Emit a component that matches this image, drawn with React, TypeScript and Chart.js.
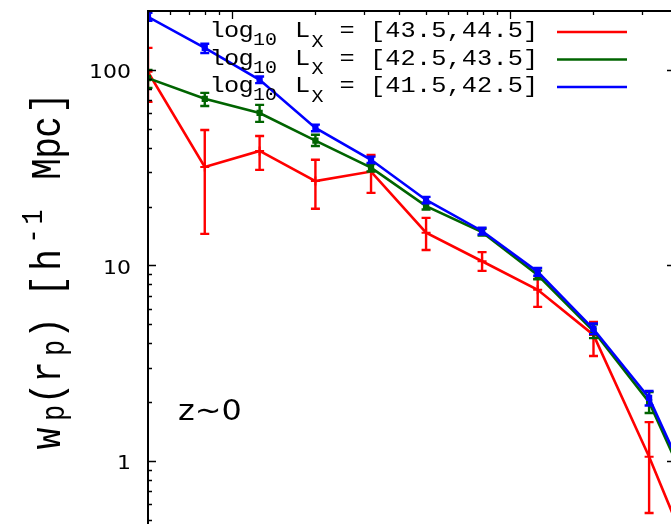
import React, { useEffect, useRef } from 'react';
import { Chart, registerables } from 'chart.js';

Chart.register(...registerables);

// ---------------- data ----------------
const rpValues = [0.5, 0.8, 1.26, 2.0, 3.17, 5.0, 7.95, 12.6, 20.0, 31.7, 50.2];

const seriesRanges = ['[43.5,44.5]', '[42.5,43.5]', '[41.5,42.5]'];
const seriesColors = ['#ff0000', '#006400', '#0000ff'];

const redValues = [97.7, 31.9, 38.5, 27.0, 30.2, 14.7, 10.5, 7.5, 4.41, 1.05, 0.216];
const redErrLow = [68.6, 14.5, 30.8, 19.5, 23.5, 12.0, 9.38, 6.14, 3.44, 0.542, null];
const redErrHigh = [129.6, 49.3, 45.9, 34.7, 36.7, 17.5, 11.7, 8.53, 5.14, 1.58, null];

const greenValues = [90.7, 71.1, 60.2, 43.5, 31.6, 20.1, 14.8, 8.93, 4.62, 2.0, 0.47];
const greenErrLow = [80.9, 65.4, 54.2, 40.8, 30.2, 19.3, 14.2, 8.5, 4.25, 1.76, null];
const greenErrHigh = [100, 76.3, 66.2, 46.6, 33.0, 20.9, 15.4, 9.4, 5.0, 2.25, null];

const blueValues = [186.6, 129.6, 88.9, 50.5, 34.7, 21.6, 15.0, 9.27, 4.73, 2.1, 0.5];
const blueErrLow = [178, 122, 85.5, 48.5, 33.4, 20.8, 14.4, 8.85, 4.45, 1.92, null];
const blueErrHigh = [196, 136, 92.5, 52.5, 36.0, 22.4, 15.6, 9.7, 5.05, 2.28, null];

const yMajorTicks = [1, 10, 100];
const yTickLabels = ['1', '10', '100'];
const yMinorTicks = [0.5, 0.6, 0.7, 0.8, 0.9, 2, 3, 4, 5, 6, 7, 8, 9, 20, 30, 40, 50, 60, 70, 80, 90, 200];
const xMajorTicks = [1, 10];
const xMinorTicks = [0.6, 0.7, 0.8, 0.9, 2, 3, 4, 5, 6, 7, 8, 9, 20, 30];

const X_MIN = 0.5;
const X_MAX = 38.0;
const Y_MIN = 0.476;
const Y_MAX = 200;

const errLows = [redErrLow, greenErrLow, blueErrLow];
const errHighs = [redErrHigh, greenErrHigh, blueErrHigh];

function glyph(
  ctx: CanvasRenderingContext2D,
  ch: string,
  cx: number,
  by: number,
  font: string,
  sx: number,
  rotated: boolean
) {
  ctx.save();
  ctx.translate(cx, by);
  if (rotated) {
    ctx.rotate(-Math.PI / 2);
    ctx.scale(1, sx);
  } else {
    ctx.scale(sx, 1);
  }
  ctx.font = font;
  ctx.textAlign = 'center';
  ctx.textBaseline = 'alphabetic';
  ctx.fillText(ch, 0, 0);
  ctx.restore();
}

const errorBarPlugin = {
  id: 'errorBars',
  afterDatasetDraw(chart: any, args: any) {
    const i = args.index;
    const lows = errLows[i];
    const highs = errHighs[i];
    const { ctx, chartArea } = chart;
    const xs = chart.scales.x;
    const ys = chart.scales.y;
    ctx.save();
    ctx.beginPath();
    ctx.rect(chartArea.left, chartArea.top, chartArea.right - chartArea.left, chartArea.bottom - chartArea.top);
    ctx.clip();
    ctx.strokeStyle = seriesColors[i];
    ctx.lineWidth = 2.4;
    for (let k = 0; k < rpValues.length; k++) {
      const lo = lows[k];
      const hi = highs[k];
      if (lo == null || hi == null) continue;
      const px = xs.getPixelForValue(rpValues[k]);
      const pl = ys.getPixelForValue(lo);
      const ph = ys.getPixelForValue(hi);
      ctx.beginPath();
      ctx.moveTo(px, pl);
      ctx.lineTo(px, ph);
      ctx.moveTo(px - 4.5, pl);
      ctx.lineTo(px + 4.5, pl);
      ctx.moveTo(px - 4.5, ph);
      ctx.lineTo(px + 4.5, ph);
      ctx.stroke();
    }
    ctx.restore();
  },
};

const framePlugin = {
  id: 'frame',
  afterDraw(chart: any) {
    const { ctx, chartArea } = chart;
    const xs = chart.scales.x;
    const ys = chart.scales.y;
    const L = chartArea.left;
    const T = chartArea.top;
    const R = chart.width;
    const B = chart.height;
    ctx.save();
    ctx.strokeStyle = '#000';
    // frame
    ctx.lineWidth = 2;
    ctx.beginPath();
    ctx.moveTo(L, B);
    ctx.lineTo(L, T);
    ctx.lineTo(R, T);
    ctx.stroke();
    // ticks
    ctx.lineWidth = 1.3;
    ctx.beginPath();
    for (const v of yMajorTicks) {
      const py = Math.round(ys.getPixelForValue(v)) + 0.5;
      ctx.moveTo(L, py);
      ctx.lineTo(L + 8, py);
      ctx.moveTo(R - 4, py);
      ctx.lineTo(R, py);
    }
    for (const v of yMinorTicks) {
      if (v < Y_MIN || v > Y_MAX) continue;
      const py = Math.round(ys.getPixelForValue(v)) + 0.5;
      ctx.moveTo(L, py);
      ctx.lineTo(L + 4, py);
    }
    for (const v of xMajorTicks) {
      const px = Math.round(xs.getPixelForValue(v)) + 0.5;
      ctx.moveTo(px, T);
      ctx.lineTo(px, T + 8);
    }
    for (const v of xMinorTicks) {
      const px = Math.round(xs.getPixelForValue(v)) + 0.5;
      ctx.moveTo(px, T);
      ctx.lineTo(px, T + 4);
    }
    ctx.stroke();

    // y tick labels
    ctx.fillStyle = '#000';
    yMajorTicks.forEach((v, k) => {
      const py = ys.getPixelForValue(v);
      ctx.save();
      ctx.translate(131, py + 8.5);
      ctx.scale(1.1, 1);
      ctx.font = '20px "DejaVu Sans"';
      ctx.textAlign = 'right';
      ctx.textBaseline = 'alphabetic';
      ctx.fillText(yTickLabels[k], 0, 0);
      ctx.restore();
    });

    // y axis title (rotated, monospace with sub/superscripts)
    const mainF = '36px "Liberation Mono"';
    const subF = '27px "Liberation Mono"';
    const supF = '25px "Liberation Mono"';
    const title: [string, number, string, number][] = [
      ['w', 438.5, mainF, 60],
      ['p', 413, subF, 64],
      ['(', 393.5, mainF, 60],
      ['r', 372, mainF, 60],
      ['p', 348, subF, 64],
      [')', 328, mainF, 60],
      ['[', 286, mainF, 60],
      ['h', 260, mainF, 60],
      ['-', 236, supF, 42],
      ['1', 217, supF, 42],
      ['M', 169, mainF, 60],
      ['p', 148, mainF, 60],
      ['c', 127, mainF, 60],
      [']', 103, mainF, 60],
    ];
    for (const [ch, cy, f, bx] of title) {
      glyph(ctx, ch, bx, cy, f, 1.2, true);
    }

    // legend
    const lf = '22px "Liberation Mono"';
    const sf = '19px "Liberation Mono"';
    const baselines = [37.3, 64.8, 92.3];
    seriesRanges.forEach((rng, r) => {
      const b = baselines[r];
      glyph(ctx, 'l', 217, b, lf, 1.15, false);
      glyph(ctx, 'o', 231.5, b, lf, 1.15, false);
      glyph(ctx, 'g', 246, b, lf, 1.15, false);
      glyph(ctx, '1', 259, b + 8, sf, 1.05, false);
      glyph(ctx, '0', 271, b + 8, sf, 1.05, false);
      glyph(ctx, 'L', 302.5, b, lf, 1.15, false);
      glyph(ctx, 'X', 317.5, b + 9.5, sf, 1.05, false);
      glyph(ctx, '=', 347, b, lf, 1.15, false);
      for (let c = 0; c < rng.length; c++) {
        glyph(ctx, rng[c], 377.6 + c * 15.3, b, lf, 1.15, false);
      }
      ctx.strokeStyle = seriesColors[r];
      ctx.lineWidth = 2.6;
      ctx.beginPath();
      ctx.moveTo(557, b - 5.3);
      ctx.lineTo(627, b - 5.3);
      ctx.stroke();
    });

    // annotation
    ctx.fillStyle = '#000';
    ctx.save();
    ctx.translate(178, 420);
    ctx.scale(1.1, 1);
    ctx.font = '29px "DejaVu Sans"';
    ctx.textAlign = 'left';
    ctx.textBaseline = 'alphabetic';
    ctx.fillText('z~0', 0, 0);
    ctx.restore();

    ctx.restore();
  },
};

function toPoints(vals: number[]) {
  return rpValues.map((x, i) => ({ x, y: vals[i] }));
}

export default function App() {
  const ref = useRef<HTMLCanvasElement | null>(null);

  useEffect(() => {
    if (!ref.current) return;
    const mk = (label: string, vals: number[], color: string, order: number, style: any, radius: number) => ({
      label,
      data: toPoints(vals),
      borderColor: color,
      backgroundColor: color,
      borderWidth: 2.6,
      pointStyle: style,
      pointRadius: radius,
      pointBorderWidth: 2,
      pointBackgroundColor: color,
      pointBorderColor: color,
      tension: 0,
      fill: false,
      order,
    });
    const chart = new Chart(ref.current, {
      type: 'line',
      data: {
        datasets: [
          mk('log10 LX = ' + seriesRanges[0], redValues, seriesColors[0], 2, 'cross', 4.5),
          mk('log10 LX = ' + seriesRanges[1], greenValues, seriesColors[1], 1, 'rect', 3),
          mk('log10 LX = ' + seriesRanges[2], blueValues, seriesColors[2], 0, 'rect', 3),
        ] as any,
      },
      options: {
        responsive: false,
        animation: false,
        layout: { autoPadding: false, padding: { left: 148, top: 11, right: 0, bottom: 0 } },
        plugins: {
          legend: { display: false },
          tooltip: { enabled: false },
          title: { display: false },
        },
        scales: {
          x: { type: 'logarithmic', min: X_MIN, max: X_MAX, display: false },
          y: { type: 'logarithmic', min: Y_MIN, max: Y_MAX, display: false },
        },
      },
      plugins: [errorBarPlugin, framePlugin],
    });
    return () => chart.destroy();
  }, []);

  return (
    <div style={{ position: 'absolute', left: 0, top: 0, width: 671, height: 524, background: '#fff' }}>
      <canvas ref={ref} width={671} height={524} style={{ display: 'block', width: 671, height: 524 }} />
    </div>
  );
}
